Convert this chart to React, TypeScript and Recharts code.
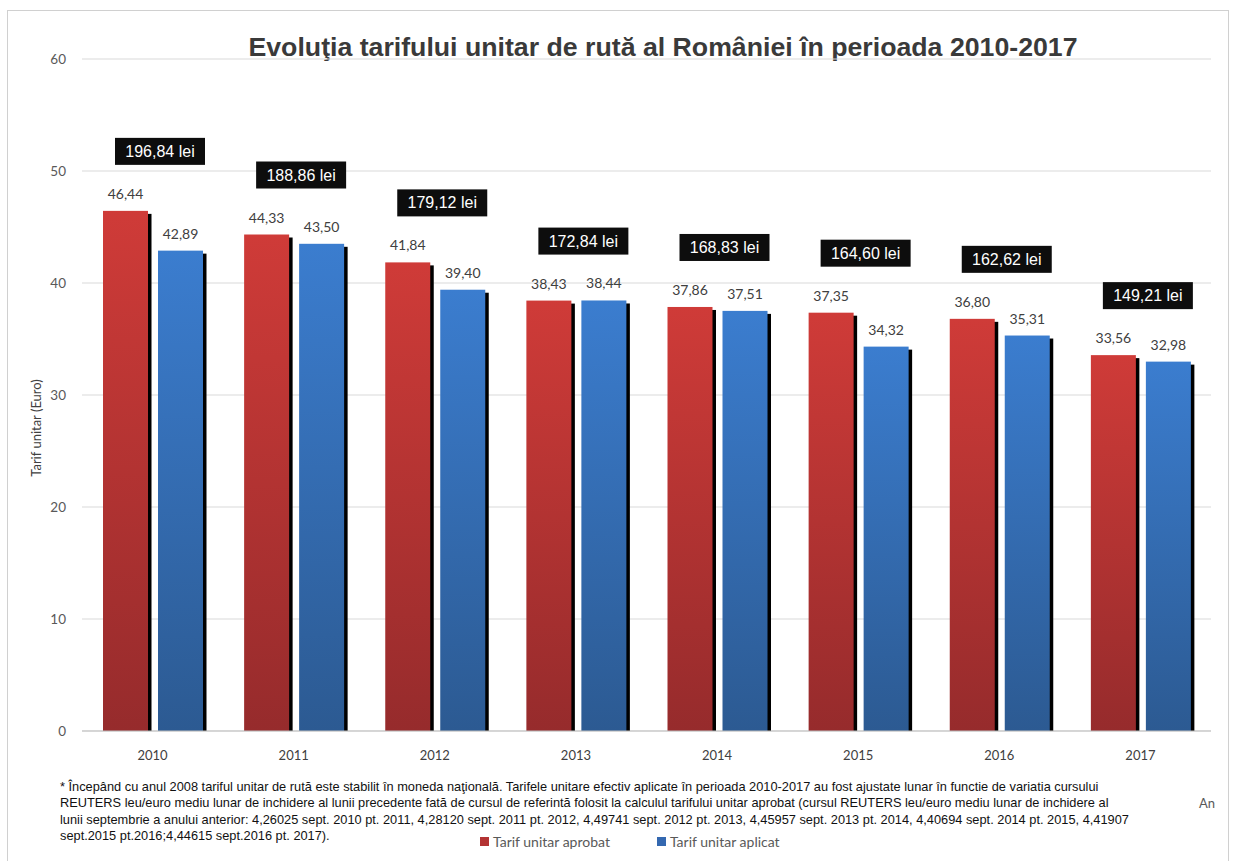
import React from 'react';
import { BarChart, Bar, XAxis, YAxis, CartesianGrid, LabelList } from 'recharts';

const years = ['2010', '2011', '2012', '2013', '2014', '2015', '2016', '2017'];
const aprobat = [46.44, 44.33, 41.84, 38.43, 37.86, 37.35, 36.8, 33.56];
const aplicat = [42.89, 43.5, 39.4, 38.44, 37.51, 34.32, 35.31, 32.98];
const leiLabels = ['196,84 lei', '188,86 lei', '179,12 lei', '172,84 lei', '168,83 lei', '164,60 lei', '162,62 lei', '149,21 lei'];
const yTicks = [0, 10, 20, 30, 40, 50, 60];

const footnote = [
  '* Începând cu anul 2008 tariful unitar de rută este stabilit în moneda naţională. Tarifele unitare efectiv aplicate în perioada 2010-2017 au fost ajustate lunar în functie de variatia cursului',
  'REUTERS leu/euro mediu lunar de inchidere al lunii precedente fată de cursul de referintă folosit la calculul tarifului unitar aprobat (cursul REUTERS leu/euro mediu lunar de inchidere al',
  'lunii septembrie a anului anterior: 4,26025 sept. 2010 pt. 2011, 4,28120 sept. 2011 pt. 2012, 4,49741 sept. 2012 pt. 2013, 4,45957 sept. 2013 pt. 2014, 4,40694 sept. 2014 pt. 2015, 4,41907',
  'sept.2015 pt.2016;4,44615 sept.2016 pt. 2017).',
];

const data = years.map((year, i) => ({ year, aprobat: aprobat[i], aplicat: aplicat[i] }));

const fmt = (v: number) => v.toFixed(2).replace('.', ',');
const calibri = 'Lato, "Open Sans", sans-serif';
const arial = '"Liberation Sans", Arial, sans-serif';

const ShadowBar = (props: any) => {
  const { x, y, width, height, fill } = props;
  if (!height || height <= 0) return null;
  return (
    <g>
      <rect x={x + 3.5} y={y + 3} width={width} height={height - 3} fill="#000" />
      <rect x={x} y={y} width={width} height={height} fill={fill} />
    </g>
  );
};

const LeiBox = (props: any) => {
  const { x, y, width, index } = props;
  const cx = x + width + 12;
  const w = 90;
  const h = 27;
  const bottom = y - 46;
  return (
    <g>
      <rect x={cx - w / 2} y={bottom - h} width={w} height={h} fill="#0d0d0d" />
      <text x={cx} y={bottom - 8} textAnchor="middle" fill="#fff" fontFamily={arial} fontSize={16}>
        {leiLabels[index]}
      </text>
    </g>
  );
};

export default function App() {
  return (
    <div style={{ position: 'absolute', left: 0, top: 0, width: 1234, height: 861, overflow: 'hidden', background: '#fff' }}>
      <div style={{ position: 'absolute', left: 7, top: 10, width: 1220, height: 900, border: '1px solid #d0d0d0' }} />
      <div style={{ position: 'absolute', left: 0, top: 32, width: 1326, textAlign: 'center', fontFamily: arial, fontWeight: 'bold', fontSize: 26.7, color: '#3a3a3a' }}>
        Evoluţia tarifului unitar de rută al României în perioada 2010-2017
      </div>
      <div style={{ position: 'absolute', left: 36, top: 428, width: 0, height: 0 }}>
        <div style={{ position: 'absolute', transform: 'translate(-50%, -50%) rotate(-90deg)', whiteSpace: 'nowrap', fontFamily: calibri, fontSize: 13, color: '#404040' }}>
          Tarif unitar (Euro)
        </div>
      </div>
      <div style={{ position: 'absolute', left: 0, top: 0 }}>
        <BarChart width={1234} height={861} data={data} margin={{ top: 59, right: 23, left: 42, bottom: 100 }} barSize={45} barGap={10}>
          <defs>
            <linearGradient id="gRed" x1="0" y1="0" x2="0" y2="1">
              <stop offset="0%" stopColor="#cf3b38" />
              <stop offset="100%" stopColor="#962b2c" />
            </linearGradient>
            <linearGradient id="gBlue" x1="0" y1="0" x2="0" y2="1">
              <stop offset="0%" stopColor="#3b7dcf" />
              <stop offset="100%" stopColor="#2c5a92" />
            </linearGradient>
          </defs>
          <CartesianGrid vertical={false} stroke="#d9d9d9" />
          <XAxis dataKey="year" axisLine={{ stroke: '#bfbfbf' }} tickLine={false} tickMargin={14} height={30} tick={{ fontFamily: calibri, fontSize: 13, fill: '#404040' }} />
          <YAxis domain={[0, 60]} ticks={yTicks} width={40} axisLine={false} tickLine={false} tickMargin={10} tick={{ fontFamily: calibri, fontSize: 13.5, fill: '#595959' }} />
          <Bar dataKey="aprobat" name="Tarif unitar aprobat" fill="url(#gRed)" shape={<ShadowBar />} isAnimationActive={false}>
            <LabelList dataKey="aprobat" position="top" offset={12} formatter={(v: any) => fmt(Number(v))} style={{ fontFamily: calibri, fontSize: 14, fill: '#404040' }} />
            <LabelList dataKey="aprobat" content={<LeiBox />} />
          </Bar>
          <Bar dataKey="aplicat" name="Tarif unitar aplicat" fill="url(#gBlue)" shape={<ShadowBar />} isAnimationActive={false}>
            <LabelList dataKey="aplicat" position="top" offset={12} formatter={(v: any) => fmt(Number(v))} style={{ fontFamily: calibri, fontSize: 14, fill: '#404040' }} />
          </Bar>
        </BarChart>
      </div>
      <div style={{ position: 'absolute', left: 60, top: 779, fontFamily: arial, fontSize: 12.8, lineHeight: '16.3px', color: '#111', whiteSpace: 'nowrap' }}>
        {footnote.map((line) => (
          <div key={line}>{line}</div>
        ))}
      </div>
      <div style={{ position: 'absolute', left: 1199, top: 795, fontFamily: calibri, fontSize: 13, color: '#595959' }}>An</div>
      <div style={{ position: 'absolute', left: 480, top: 833, display: 'flex', gap: 47, fontFamily: calibri, fontSize: 14, color: '#595959' }}>
        <span style={{ display: 'flex', alignItems: 'center', gap: 4 }}>
          <span style={{ width: 9, height: 9, background: '#b33333', display: 'inline-block' }} />
          Tarif unitar aprobat
        </span>
        <span style={{ display: 'flex', alignItems: 'center', gap: 4 }}>
          <span style={{ width: 9, height: 9, background: '#3468b0', display: 'inline-block' }} />
          Tarif unitar aplicat
        </span>
      </div>
    </div>
  );
}
